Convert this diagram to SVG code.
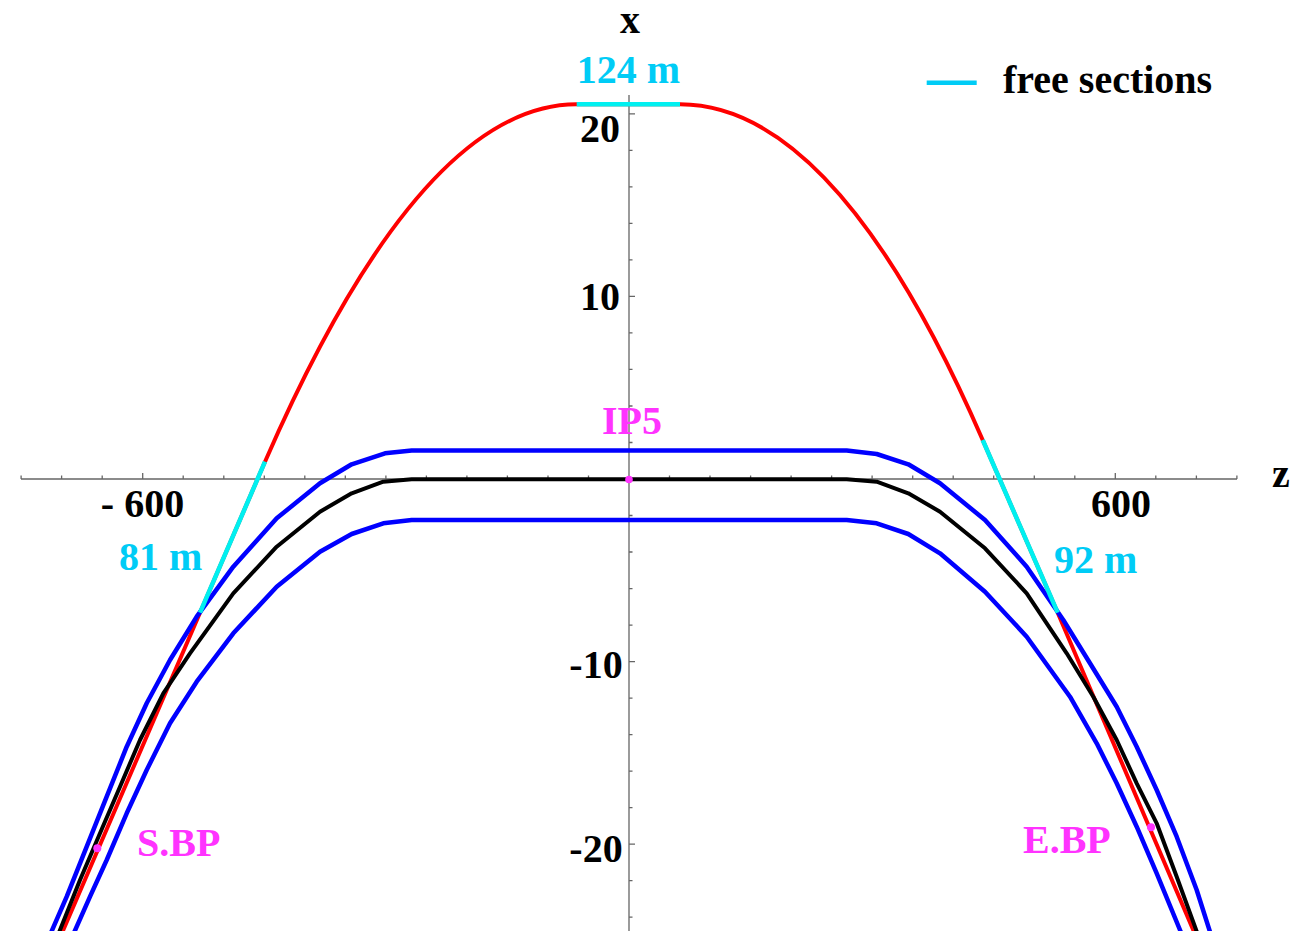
<svg xmlns="http://www.w3.org/2000/svg" width="1309" height="931" viewBox="0 0 1309 931">
<style>
text{font-family:"Liberation Serif","Times New Roman",serif;font-weight:bold;font-size:40px}
.blk{fill:#000}
.cyt{fill:#00CCF6}
.mag{fill:#FF33FF}
.axis{stroke:#666;stroke-width:1.3;fill:none}
.curve{fill:none;stroke-linejoin:round;stroke-linecap:round}
.red{stroke:#FF0000;stroke-width:4}
.blue{stroke:#0000FF;stroke-width:4.5}
.black{stroke:#000;stroke-width:4}
.cyan{stroke:#00F0F0;stroke-width:4.5;stroke-linecap:butt}
</style>
<rect width="1309" height="931" fill="#fff"/>
<g id="axes">
<path class="axis" d="M21,479H1237M629,95V931"/>
<path class="axis" d="M21.1,479v-3.5M61.6,479v-3.5M102.2,479v-3.5M142.7,479v-6M183.2,479v-3.5M223.8,479v-3.5M264.3,479v-3.5M304.8,479v-3.5M345.3,479v-3.5M385.9,479v-3.5M426.4,479v-3.5M466.9,479v-3.5M507.4,479v-3.5M548,479v-3.5M588.5,479v-3.5M669.5,479v-3.5M710,479v-3.5M750.6,479v-3.5M791.1,479v-3.5M831.6,479v-3.5M872.1,479v-3.5M912.7,479v-3.5M953.2,479v-3.5M993.7,479v-3.5M1034.3,479v-3.5M1074.8,479v-3.5M1115.3,479v-6M1155.8,479v-3.5M1196.4,479v-3.5M1236.9,479v-3.5"/>
<path class="axis" d="M629,113.8h6M629,150.3h3.5M629,186.8h3.5M629,223.4h3.5M629,259.9h3.5M629,296.4h6M629,332.9h3.5M629,369.4h3.5M629,406h3.5M629,442.5h3.5M629,515.5h3.5M629,552h3.5M629,588.6h3.5M629,625.1h3.5M629,661.6h6M629,698.1h3.5M629,734.6h3.5M629,771.2h3.5M629,807.7h3.5M629,844.2h6M629,880.7h3.5M629,917.2h3.5"/>
<text class="blk" x="630" y="33" text-anchor="middle">x</text>
<text class="blk" x="1272" y="487">z</text>
<text class="blk" x="620" y="142" text-anchor="end">20</text>
<text class="blk" x="620" y="310" text-anchor="end">10</text>
<text class="blk" x="622.7" y="678" text-anchor="end">-10</text>
<text class="blk" x="622.7" y="861.5" text-anchor="end">-20</text>
<text class="blk" x="142.5" y="517" text-anchor="middle">- 600</text>
<text class="blk" x="1121" y="517" text-anchor="middle">600</text>
</g>
<g id="connectors">
<path id="beam-red" class="curve red" d="M59,940L63.3,930L200,612.7L265,461.7Q420.85,104.3 576.7,104.3H680Q836.7,104.3 982.7,440L1057.7,612.7L1197.5,940"/>
<polyline id="envelope-upper" class="curve blue" points="50,935 66.7,896.7 86.7,846.7 106.7,796.7 126.7,746.7 146.7,703.3 170,660 196.7,616.7 233.3,566.7 276.7,518.3 320,483.3 351.7,464.3 385,453.3 411.7,450.5 846.7,450.5 876.7,454 908.3,464.3 940,483.3 985,520 1026.7,566.7 1063.3,620 1090,663.3 1116.7,706.7 1136.7,746.7 1156.7,790 1176.7,836.7 1196.7,890 1211,935"/>
<polyline id="orbit-black" class="curve black" points="58,935 80,880 100,833.3 120,786.7 140,740 163.3,693.3 190,653.3 233.3,593.3 276.7,546.7 320,511.7 351.7,493.3 383.3,481.7 411.7,479.3 846.7,479.3 876.7,481.7 908.3,493.3 940,511.7 985,548.3 1026.7,593.3 1066.7,653.3 1093.3,696.7 1116.7,740 1136.7,783.3 1156.7,823.3 1176.7,876.7 1198,935"/>
<polyline id="envelope-lower" class="curve blue" points="73,935 90,896.7 106.7,860 126.7,813.3 146.7,770 170,723.3 196.7,681.7 233.3,633.3 276.7,586.7 320,551.7 351.7,534 383.3,523.3 411.7,520 846.7,520 876.7,523.3 908.3,534 940,553.3 985,591.7 1026.7,636.7 1070,696.7 1096.7,743.3 1116.7,783.3 1136.7,826.7 1156.7,873.3 1180,930 1182,935"/>
<path id="free-top" class="curve cyan" d="M576.7,104.3H680"/>
<path id="free-left" class="curve cyan" d="M265,461.7L200,612.7"/>
<path id="free-right" class="curve cyan" d="M982.7,440L1057.7,612.7"/>
</g>
<g id="ip5">
<circle class="mag" cx="629" cy="479.5" r="3.8"/>
<text class="mag" x="632" y="434" text-anchor="middle">IP5</text>
</g>
<g id="sbp">
<circle class="mag" cx="97.3" cy="848.3" r="4"/>
<text class="mag" x="137" y="856">S.BP</text>
</g>
<g id="ebp">
<circle class="mag" cx="1151" cy="827.3" r="4"/>
<text class="mag" x="1023" y="853">E.BP</text>
</g>
<g id="labels">
<text class="cyt" x="628.5" y="83" text-anchor="middle">124 m</text>
<text class="cyt" x="119" y="570">81 m</text>
<text class="cyt" x="1054" y="573">92 m</text>
</g>
<g id="legend">
<path d="M926.7,82.7H976.7" stroke="#00CCF6" stroke-width="4.5"/>
<text class="blk" x="1003" y="93">free sections</text>
</g>
</svg>
